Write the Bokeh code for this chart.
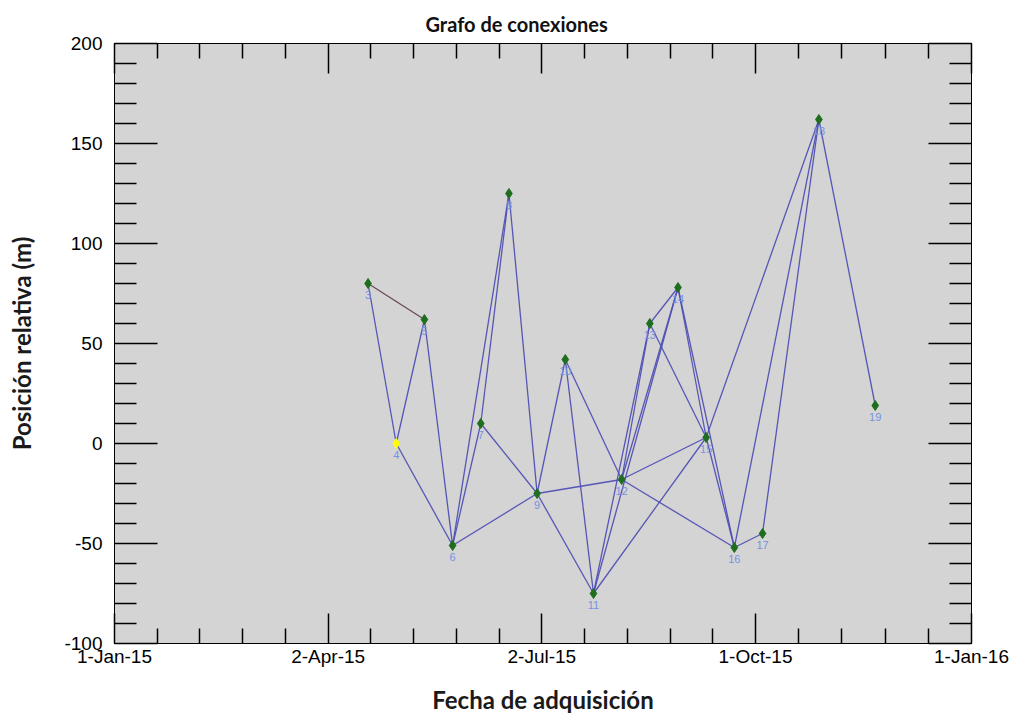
import pandas as pd
from bokeh.plotting import figure
from bokeh.models import ColumnDataSource, FixedTicker, LinearAxis, Range1d
from bokeh.core.properties import value
from bokeh.embed import file_html
from bokeh.resources import INLINE

# ---- data ----
dates = ["2015-04-19", "2015-05-01", "2015-05-13", "2015-05-25", "2015-06-06",
         "2015-06-18", "2015-06-30", "2015-07-12", "2015-07-24", "2015-08-05",
         "2015-08-17", "2015-08-29", "2015-09-10", "2015-09-22", "2015-10-04",
         "2015-10-28", "2015-11-21"]
position_m = [80, 0, 62, -51, 10, 125, -25, 42, -75, -18, 60, 78, 3, -52, -45, 162, 19]
image_ids = [3, 4, 5, 6, 7, 8, 9, 10, 11, 12, 13, 14, 15, 16, 17, 18, 19]
master_id = 4
edges = [(3, 4), (3, 5), (4, 5), (4, 6), (5, 6), (6, 7), (6, 8), (6, 9), (7, 8), (7, 9),
         (8, 9), (9, 10), (9, 11), (9, 12), (10, 11), (10, 12), (11, 13), (11, 14),
         (11, 15), (12, 13), (12, 14), (12, 15), (12, 16), (13, 14), (13, 15), (14, 15),
         (14, 16), (15, 16), (15, 18), (16, 17), (16, 18), (17, 18), (18, 19)]
dark_edges = [(3, 5)]
x_tick_dates = ["2015-01-01", "2015-04-02", "2015-07-02", "2015-10-01", "2016-01-01"]
x_tick_labels = ["1-Jan-15", "2-Apr-15", "2-Jul-15", "1-Oct-15", "1-Jan-16"]
y_ticks = [-100, -50, 0, 50, 100, 150, 200]

origin = pd.Timestamp("2015-01-01")
xday = [(pd.Timestamp(d) - origin).days for d in dates]
x_ticks = [(pd.Timestamp(d) - origin).days for d in x_tick_dates]
x_minor = []
for a, b in zip(x_ticks[:-1], x_ticks[1:]):
    x_minor += [a + (b - a) * k / 5 for k in range(1, 5)]
y_minor = [v for v in range(-100, 201, 10) if v % 50 != 0]

idx = {iid: i for i, iid in enumerate(image_ids)}

def edge_source(pairs):
    return ColumnDataSource(dict(
        x0=[xday[idx[a]] for a, b in pairs], y0=[position_m[idx[a]] for a, b in pairs],
        x1=[xday[idx[b]] for a, b in pairs], y1=[position_m[idx[b]] for a, b in pairs]))

blue_edges = [e for e in edges if e not in dark_edges]

p = figure(width=1015, height=717, output_backend="svg", toolbar_location=None,
           x_range=Range1d(0, 365), y_range=Range1d(-100, 200),
           x_axis_type=None, y_axis_type=None,
           min_border_left=114, min_border_right=44, min_border_top=43, min_border_bottom=74,
           background_fill_color="#d4d4d4", border_fill_color="white",
           outline_line_color="black")
p.grid.visible = False

p.title.text = "Grafo de conexiones"
p.title.text_font = "Lato"
p.title.text_font_style = "bold"
p.title.text_font_size = "20px"
p.title.align = "left"
p.title.offset = 311
p.title.standoff = 16
p.title.text_color = "#111111"

xt = FixedTicker(ticks=x_ticks, minor_ticks=x_minor)
yt = FixedTicker(ticks=y_ticks, minor_ticks=y_minor)

def style(ax, major, minor, labels=True):
    ax.axis_line_color = "black"
    ax.major_tick_line_color = "black"
    ax.minor_tick_line_color = "black"
    ax.major_tick_line_width = 1.5
    ax.minor_tick_line_width = 1.5
    ax.major_tick_out = 0
    ax.minor_tick_out = 0
    ax.major_tick_in = major
    ax.minor_tick_in = minor
    if labels:
        ax.major_label_text_font = "Liberation Sans"
        ax.major_label_text_font_size = "19px"
        ax.major_label_text_color = "black"
    else:
        ax.major_label_text_color = None
        ax.major_label_text_font_size = "0px"
        ax.major_label_standoff = 0

xb = LinearAxis(ticker=xt, axis_label="Fecha de adquisición")
style(xb, 30, 15)
xb.major_label_overrides = {t: l for t, l in zip(x_ticks, x_tick_labels)}
xb.major_label_standoff = 2
xb.axis_label_text_font = "Lato"
xb.axis_label_text_font_style = "bold"
xb.axis_label_text_font_size = "24px"
xb.axis_label_text_color = "#1a1a1a"
xb.axis_label_standoff = 15
p.add_layout(xb, "below")

yl = LinearAxis(ticker=yt, axis_label="Posición relativa (m)")
style(yl, 43, 22)
yl.major_label_overrides = {t: str(t) for t in y_ticks}
yl.major_label_standoff = 12
yl.axis_label_text_font = "Lato"
yl.axis_label_text_font_style = "bold"
yl.axis_label_text_font_size = "24px"
yl.axis_label_text_color = "#1a1a1a"
yl.axis_label_standoff = 25
p.add_layout(yl, "left")

xa = LinearAxis(ticker=xt)
style(xa, 30, 15, labels=False)
p.add_layout(xa, "above")
yr = LinearAxis(ticker=yt)
style(yr, 43, 22, labels=False)
p.add_layout(yr, "right")

p.segment("x0", "y0", "x1", "y1", source=edge_source(blue_edges),
          line_color="#4f4fb4", line_width=1.3, line_alpha=0.95)
p.segment("x0", "y0", "x1", "y1", source=edge_source(dark_edges),
          line_color="#6a4a5c", line_width=1.3)

is_master = [iid == master_id for iid in image_ids]
nodes = ColumnDataSource(dict(
    x=xday, y=position_m, lab=[str(i) for i in image_ids],
    c=["#ffff00" if m else "#1f6e1f" for m in is_master]))
p.scatter("x", "y", source=nodes, marker="diamond", size=10,
          fill_color="c", line_color="c")
p.text("x", "y", text="lab", source=nodes, text_align="center", text_baseline="top",
       y_offset=7, text_font=value("Liberation Sans"), text_font_size="11px",
       text_color="#7592e0")

open("out.html", "w").write(file_html(p, INLINE))
